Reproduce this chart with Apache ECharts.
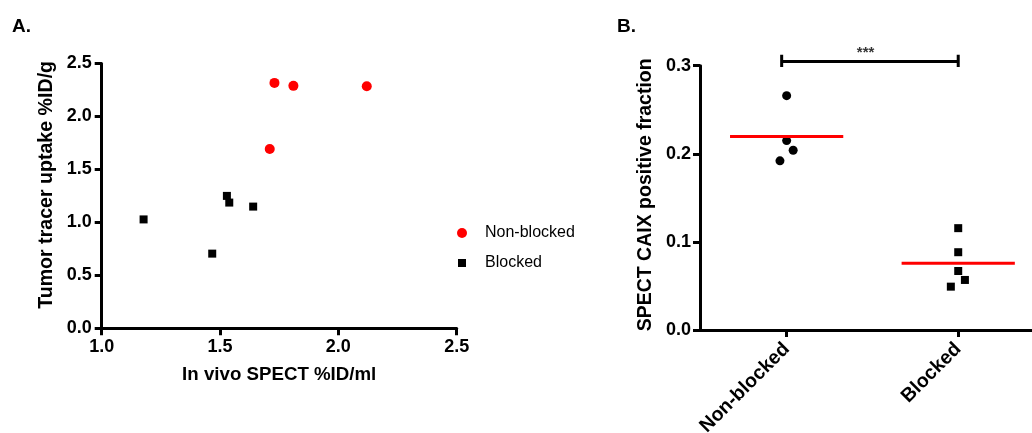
<!DOCTYPE html>
<html>
<head>
<meta charset="utf-8">
<script src="https://cdn.jsdelivr.net/npm/echarts@6/dist/echarts.min.js"></script>
<style>
html,body{margin:0;padding:0;background:#fff;}
#chart{width:1032px;height:433px;}
</style>
</head>
<body>
<div id="chart"></div>
<script>
// Panel A data
const nonBlockedSpect = [1.73, 1.81, 2.12, 1.71];
const nonBlockedUptake = [2.317, 2.289, 2.285, 1.693];
const blockedSpect = [1.177, 1.467, 1.529, 1.539, 1.640];
const blockedUptake = [1.028, 0.705, 1.250, 1.187, 1.149];
const aXTicks = [1.0, 1.5, 2.0, 2.5];
const aYTicks = [0.0, 0.5, 1.0, 1.5, 2.0, 2.5];

// Panel B data
const groups = ['Non-blocked', 'Blocked'];
const groupPositions = [0, 1];
const bNonBlockedFraction = [0.266, 0.215, 0.204, 0.192];
const bNonBlockedJitter = [0, 0, 0.038, -0.039];
const bBlockedFraction = [0.1156, 0.0883, 0.067, 0.0568, 0.0492];
const bBlockedJitter = [0, 0, 0, 0.039, -0.043];
const bMeans = [0.2197, 0.0757];
const bYTicks = [0.0, 0.1, 0.2, 0.3];
const sigLabel = '***';

const FONT = 'Liberation Sans, Arial, sans-serif';
const axisLine = {show: true, onZero: false, lineStyle: {color: '#000', width: 3}};
const axisTick = {show: true, length: 7, lineStyle: {color: '#000', width: 3}};
const lbl = {color: '#000', fontFamily: FONT, fontWeight: 'bold', fontSize: 18};
const nameStyle = (size, extra) => Object.assign({color: '#000', fontFamily: FONT, fontWeight: 'bold', fontSize: size}, extra || {});

const chart = echarts.init(document.getElementById('chart'), null, {renderer: 'canvas'});

const pairs = (xs, ys) => xs.map((x, i) => [x, ys[i]]);

const option = {
  backgroundColor: '#fff',
  animation: false,
  title: [
    {text: 'A.', left: 7, top: 12, textStyle: {fontFamily: FONT, fontWeight: 'bold', fontSize: 19, color: '#000'}},
    {text: 'B.', left: 612, top: 12, textStyle: {fontFamily: FONT, fontWeight: 'bold', fontSize: 19, color: '#000'}}
  ],
  legend: [
    {data: [{name: 'Non-blocked', icon: 'circle'}], left: 452, top: 220, itemWidth: 10, itemHeight: 10,
     textStyle: {fontFamily: FONT, fontSize: 16, color: '#000', padding: [0, 0, 0, 13]}},
    {data: [{name: 'Blocked', icon: 'rect'}], left: 453, top: 250, itemWidth: 8, itemHeight: 8,
     textStyle: {fontFamily: FONT, fontSize: 16, color: '#000', padding: [0, 0, 0, 14]}}
  ],
  grid: [
    {left: 101.7, top: 63.5, width: 355, height: 264.8, containLabel: false, outerBoundsMode: 'none'},
    {left: 700, top: 65.7, width: 332, height: 264.3, containLabel: false, outerBoundsMode: 'none'}
  ],
  xAxis: [
    {gridIndex: 0, type: 'value', min: aXTicks[0], max: aXTicks[aXTicks.length - 1], interval: 0.5,
     name: 'In vivo SPECT %ID/ml', nameLocation: 'middle', nameGap: 37,
     nameTextStyle: nameStyle(18.7), axisLine, axisTick, splitLine: {show: false},
     axisLabel: Object.assign({margin: 10, formatter: v => v.toFixed(1)}, lbl)},
    {gridIndex: 1, type: 'value', min: -0.505, max: 1.43,
     axisLine, axisTick: Object.assign({customValues: groupPositions}, axisTick), splitLine: {show: false},
     axisLabel: Object.assign({}, lbl, {margin: 16, rotate: 45, fontSize: 19.5, customValues: groupPositions,
       formatter: v => groups[Math.round(v)]})}
  ],
  yAxis: [
    {gridIndex: 0, type: 'value', min: aYTicks[0], max: aYTicks[aYTicks.length - 1], interval: 0.5,
     name: 'Tumor tracer uptake %ID/g', nameLocation: 'middle', nameGap: 45,
     nameTextStyle: nameStyle(19.6, {padding: [0, 0, 0, 22]}), axisLine, axisTick, splitLine: {show: false},
     axisLabel: Object.assign({margin: 10, formatter: v => v.toFixed(1)}, lbl)},
    {gridIndex: 1, type: 'value', min: bYTicks[0], max: bYTicks[bYTicks.length - 1], interval: 0.1,
     name: 'SPECT CAIX positive fraction', nameLocation: 'middle', nameGap: 44,
     nameTextStyle: nameStyle(19.5, {padding: [0, 0, 0, 6]}), axisLine, axisTick, splitLine: {show: false},
     axisLabel: Object.assign({margin: 9, formatter: v => v.toFixed(1)}, lbl)}
  ],
  series: [
    {name: 'Non-blocked', type: 'scatter', xAxisIndex: 0, yAxisIndex: 0, symbol: 'circle', symbolSize: 10,
     itemStyle: {color: '#ff0000', opacity: 1}, data: pairs(nonBlockedSpect, nonBlockedUptake)},
    {name: 'Blocked', type: 'scatter', xAxisIndex: 0, yAxisIndex: 0, symbol: 'rect', symbolSize: 8,
     itemStyle: {color: '#000', opacity: 1}, data: pairs(blockedSpect, blockedUptake)},
    {id: 'bNon', type: 'scatter', xAxisIndex: 1, yAxisIndex: 1, symbol: 'circle', symbolSize: 9,
     itemStyle: {color: '#000', opacity: 1}, data: bNonBlockedFraction.map((v, i) => [groupPositions[0] + bNonBlockedJitter[i], v])},
    {id: 'bBlk', type: 'scatter', xAxisIndex: 1, yAxisIndex: 1, symbol: 'rect', symbolSize: 8,
     itemStyle: {color: '#000', opacity: 1}, data: bBlockedFraction.map((v, i) => [groupPositions[1] + bBlockedJitter[i], v])},
    {id: 'meanNon', type: 'line', xAxisIndex: 1, yAxisIndex: 1, symbol: 'none', silent: true,
     lineStyle: {color: '#ff0000', width: 3}, data: [[-0.33, bMeans[0]], [0.33, bMeans[0]]]},
    {id: 'meanBlk', type: 'line', xAxisIndex: 1, yAxisIndex: 1, symbol: 'none', silent: true,
     lineStyle: {color: '#ff0000', width: 3}, data: [[0.67, bMeans[1]], [1.33, bMeans[1]]]},
    {id: 'bracket', type: 'line', xAxisIndex: 1, yAxisIndex: 1, symbol: 'none', silent: true, clip: false,
     lineStyle: {color: '#000', width: 3},
     data: [[-0.029, 0.3125], [-0.029, 0.2985], [-0.029, 0.3049], [1.0, 0.3049], [1.0, 0.3125], [1.0, 0.2985]]},
    {id: 'sig', type: 'scatter', xAxisIndex: 1, yAxisIndex: 1, symbolSize: 0, silent: true, clip: false,
     label: {show: true, position: 'top', distance: 0, formatter: sigLabel, color: '#000',
             fontFamily: FONT, fontWeight: 'bold', fontSize: 15},
     data: [[0.46, 0.3065]]}
  ]
};
chart.setOption(option);
</script>
</body>
</html>
